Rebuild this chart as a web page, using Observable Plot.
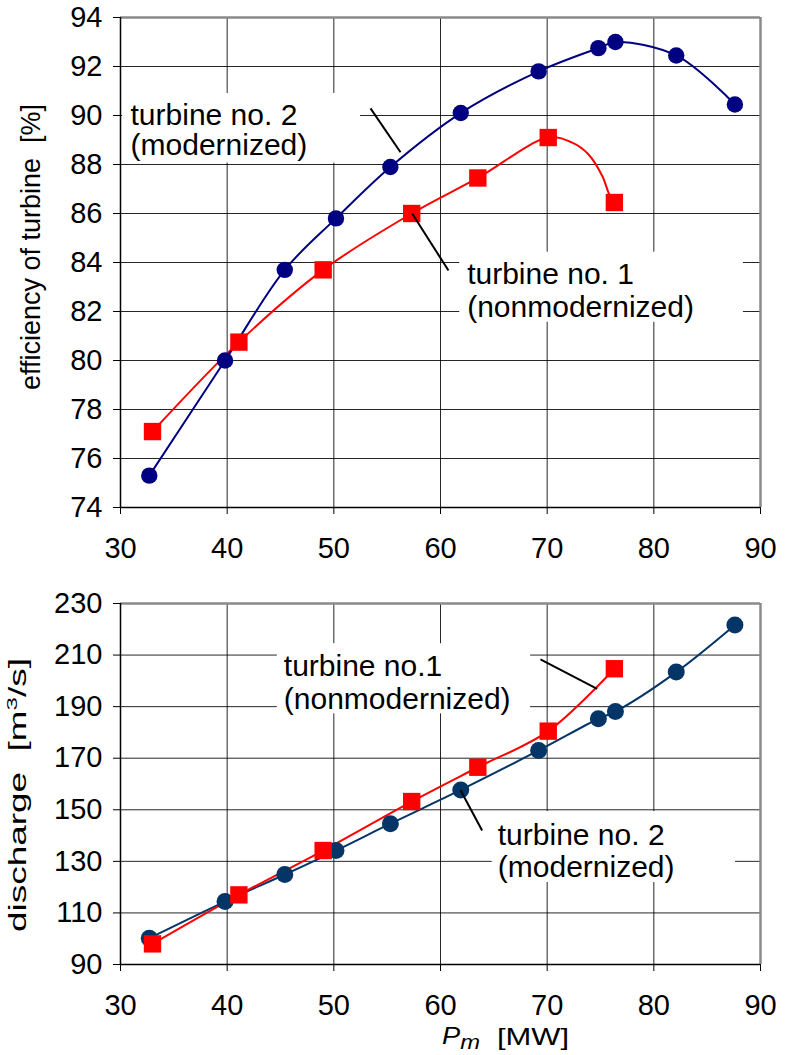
<!DOCTYPE html>
<html><head><meta charset="utf-8">
<script src="https://cdn.jsdelivr.net/npm/d3@7"></script>
<script src="https://cdn.jsdelivr.net/npm/@observablehq/plot@0.6"></script>
<style>
html,body{margin:0;padding:0;background:#fff;}
#chart{width:785px;height:1055px;overflow:hidden;background:#fff;}
#chart svg{display:block;}
</style></head><body><div id="chart"></div>
<script>
// ---- data ----
const xTicks = [30, 40, 50, 60, 70, 80, 90];
const effTicks = [74, 76, 78, 80, 82, 84, 86, 88, 90, 92, 94];
const dischargeTicks = [90, 110, 130, 150, 170, 190, 210, 230];

// turbine no. 2 (modernized)
const powerT2 = [32.7, 39.8, 45.4, 50.2, 55.3, 61.9, 69.2, 74.8, 76.4, 82.1, 87.6];
const effT2 = [75.3, 80.0, 83.7, 85.8, 87.9, 90.1, 91.8, 92.75, 93.0, 92.45, 90.45];
const dischargeT2 = [100.2, 114.4, 124.9, 134.2, 144.6, 157.7, 173.0, 185.3, 188.1, 203.4, 221.7];

// turbine no. 1 (nonmodernized)
const powerT1 = [33.0, 41.1, 49.0, 57.3, 63.5, 70.1, 76.3];
const effT1 = [77.1, 80.75, 83.7, 86.0, 87.45, 89.1, 86.45];
const dischargeT1 = [98.0, 117.0, 134.2, 153.2, 166.5, 180.5, 204.7];

// extra points read off the drawn efficiency curve of turbine no. 1 past 70 MW
const effT1CurvePower = [72.3, 73.9, 75.2, 75.8];
const effT1CurveEff = [88.9, 88.4, 87.5, 86.8];

// ---- tables ----
const t2 = powerT2.map((p, i) => ({power: p, eff: effT2[i], discharge: dischargeT2[i]}));
const t1 = powerT1.map((p, i) => ({power: p, eff: effT1[i], discharge: dischargeT1[i]}));
const t1EffCurve = [
  ...t1.map(d => ({power: d.power, eff: d.eff})),
  ...effT1CurvePower.map((p, i) => ({power: p, eff: effT1CurveEff[i]}))
].sort((a, b) => a.power - b.power);

const FONT = "'Liberation Sans', Arial, Helvetica, sans-serif";
const RED = "#ff0000";
const NAVY = "#000080";
const BLUE2 = "#043566";
const GRID = {stroke: "#000", strokeOpacity: 0.85, strokeWidth: 1};

function frameMarks(xd, yd) {
  return [
    Plot.ruleX([xd[1]], {stroke: "#8a8a8a", strokeWidth: 2.5}),
    Plot.ruleY([yd[1]], {stroke: "#8a8a8a", strokeWidth: 2.5}),
    Plot.ruleX([xd[0]], {stroke: "#000", strokeWidth: 1.5}),
    Plot.ruleY([yd[0]], {stroke: "#000", strokeWidth: 1.5})
  ];
}
function box(b) {
  return Plot.rect([b], {x1: "x1", x2: "x2", y1: "y1", y2: "y2", fill: "white"});
}
function note(n, lh) {
  return Plot.text([n], {x: "x", y: "y", text: "t", textAnchor: "start", lineAnchor: "bottom",
    lineHeight: lh, fontSize: 30, fill: "#000", fontFamily: FONT});
}
function leader(l) {
  return Plot.link([l], {x1: "x1", y1: "y1", x2: "x2", y2: "y2", stroke: "#000", strokeWidth: 2});
}

const topPlot = Plot.plot({
  width: 785, height: 560,
  marginLeft: 120, marginRight: 25, marginTop: 17, marginBottom: 53,
  style: {fontFamily: FONT, fontSize: "29px", color: "#000", background: "white", overflow: "visible"},
  x: {domain: [30, 90], ticks: xTicks, label: null, tickSize: 7, tickPadding: 23},
  y: {domain: [74, 94], ticks: effTicks, label: null, tickSize: 7, tickPadding: 11},
  marks: [
    Plot.gridX(xTicks, GRID),
    Plot.gridY(effTicks, GRID),
    ...frameMarks([30, 90], [74, 94]),
    box({x1: 30.2, x2: 52.5, y1: 88.06, y2: 90.9}),
    box({x1: 61.8, x2: 88.4, y1: 81.56, y2: 84.42}),
    Plot.line(t1EffCurve, {x: "power", y: "eff", curve: "catmull-rom", stroke: RED, strokeWidth: 2}),
    Plot.line(t2, {x: "power", y: "eff", curve: "catmull-rom", stroke: NAVY, strokeWidth: 2}),
    Plot.dot(t1, {x: "power", y: "eff", symbol: "square", r: 9.8, fill: RED}),
    Plot.dot(t2, {x: "power", y: "eff", r: 8.2, fill: NAVY}),
    leader({x1: 53.44, y1: 90.29, x2: 56.25, y2: 88.5}),
    leader({x1: 57.34, y1: 86.0, x2: 60.75, y2: 83.67}),
    note({x: 30.94, y: 88.37, t: "turbine no. 2\n(modernized)"}, 1.0),
    note({x: 62.5, y: 81.77, t: "turbine no. 1\n(nonmodernized)"}, 1.1)
  ]
});

const botPlot = Plot.plot({
  width: 785, height: 495,
  marginLeft: 120, marginRight: 25, marginTop: 43, marginBottom: 91,
  style: {fontFamily: FONT, fontSize: "29px", color: "#000", background: "white", overflow: "visible"},
  x: {domain: [30, 90], ticks: xTicks, label: null, tickSize: 7, tickPadding: 23},
  y: {domain: [90, 230], ticks: dischargeTicks, label: null, tickSize: 7, tickPadding: 11},
  marks: [
    Plot.gridX(xTicks, GRID),
    Plot.gridY(dischargeTicks, GRID),
    ...frameMarks([30, 90], [90, 230]),
    box({x1: 44.7, x2: 68.45, y1: 187.2, y2: 214.4}),
    box({x1: 64.85, x2: 87.66, y1: 121.8, y2: 149.3}),
    Plot.line(t2, {x: "power", y: "discharge", curve: "catmull-rom", stroke: BLUE2, strokeWidth: 2}),
    Plot.line(t1, {x: "power", y: "discharge", curve: "catmull-rom", stroke: RED, strokeWidth: 2}),
    Plot.dot(t2, {x: "power", y: "discharge", r: 8.5, fill: BLUE2}),
    Plot.dot(t1, {x: "power", y: "discharge", symbol: "square", r: 9.8, fill: RED}),
    leader({x1: 69.37, y1: 208.3, x2: 74.69, y2: 196.9}),
    leader({x1: 61.87, y1: 157.7, x2: 63.9, y2: 142.0}),
    note({x: 45.31, y: 189.2, t: "turbine no.1\n(nonmodernized)"}, 1.1),
    note({x: 65.37, y: 123.9, t: "turbine no. 2\n(modernized)"}, 1.06)
  ]
});

const chart = document.getElementById("chart");
chart.appendChild(topPlot);
chart.appendChild(botPlot);

// axis titles
d3.select(topPlot).append("text")
  .attr("transform", "translate(40,247) rotate(-90)")
  .attr("text-anchor", "middle")
  .attr("font-family", FONT).attr("font-size", 27).attr("fill", "#000")
  .style("white-space", "pre")
  .text("efficiency of turbine  [%]");

const dl = d3.select(botPlot).append("text")
  .attr("transform", "translate(26,235) rotate(-90)")
  .attr("text-anchor", "middle")
  .attr("font-family", FONT).attr("font-size", 23).attr("fill", "#000")
  .attr("textLength", 274).attr("lengthAdjust", "spacingAndGlyphs")
  .style("white-space", "pre");
dl.append("tspan").text("discharge  [m");
dl.append("tspan").attr("font-size", 15).attr("dy", -9).text("3");
dl.append("tspan").attr("dy", 9).text("/s]");

const pm = d3.select(botPlot).append("text")
  .attr("x", 461).attr("y", 484)
  .attr("font-family", FONT).attr("font-size", 24).attr("fill", "#000")
  .attr("textLength", 38).attr("lengthAdjust", "spacingAndGlyphs");
pm.append("tspan").attr("font-style", "italic").text("P");
pm.append("tspan").attr("font-style", "italic").attr("font-size", 21).attr("dy", 5).text("m");

d3.select(botPlot).append("text")
  .attr("x", 533).attr("y", 485)
  .attr("font-family", FONT).attr("font-size", 24).attr("fill", "#000")
  .attr("textLength", 72).attr("lengthAdjust", "spacingAndGlyphs")
  .text("[MW]");
</script></body></html>
